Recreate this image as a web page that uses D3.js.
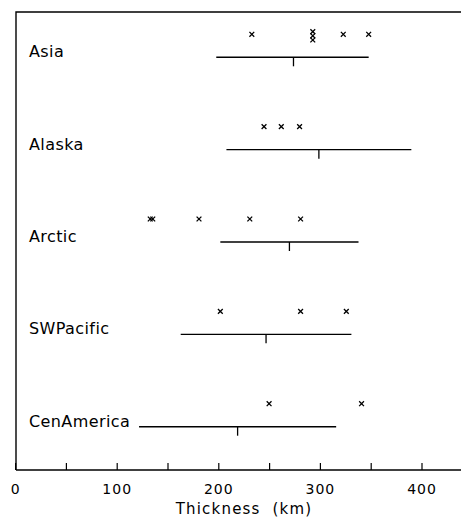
<!DOCTYPE html>
<html>
<head>
<meta charset="utf-8">
<script src="https://cdn.jsdelivr.net/npm/d3@7"></script>
<style>
  html, body { margin: 0; padding: 0; background: #fff; }
  svg { display: block; }
  text { font-family: "DejaVu Sans", sans-serif; fill: #000; }
</style>
</head>
<body>
<svg id="chart" width="461" height="519"></svg>
<script>
// Lithosphere thickness by region: individual estimates (x marks),
// overall range (horizontal bar) and median (short downward tick).
const regions = ["Asia", "Alaska", "Arctic", "SWPacific", "CenAmerica"];
const estimates = [
  [233, 293, 293, 293, 323, 348],
  [245, 262, 280],
  [133, 135.5, 181, 231, 281],
  [202, 281, 326],
  [250, 341]
];
const rangeLow  = [198, 208, 202, 163, 122];
const rangeHigh = [348, 390, 338, 331, 316];
const medians   = [274, 299, 270, 247, 219];
const tickValues = [0, 50, 100, 150, 200, 250, 300, 350, 400, 450];
const labelledTicks = [0, 100, 200, 300, 400];
const xTitle = "Thickness  (km)";

const svg = d3.select("#chart");
const W = 461;
const frameTop = 12, frameBottom = 470, frameLeft = 16;

const x = d3.scaleLinear().domain([0, 450]).range([15.1, 472.3]);
const y = d3.scalePoint().domain(regions).range([57.3, 426.7]);

// Frame: top and left edges
svg.append("path")
  .attr("d", `M${frameLeft},${frameBottom} L${frameLeft},${frameTop} L${W},${frameTop}`)
  .attr("fill", "none").attr("stroke", "#000").attr("stroke-width", 1.4);

// Bottom axis with inward ticks
const axis = d3.axisBottom(x)
  .tickValues(tickValues)
  .tickSizeInner(-7)
  .tickSizeOuter(0)
  .tickPadding(14)
  .tickFormat(d => labelledTicks.includes(d) ? d : "");

const gx = svg.append("g")
  .attr("transform", `translate(0,${frameBottom})`)
  .call(axis);
gx.select(".domain").attr("stroke", "#000").attr("stroke-width", 1.4)
  .attr("d", `M${frameLeft},0H${W}`);
gx.selectAll(".tick line").attr("stroke", "#000").attr("stroke-width", 1.2);
gx.selectAll(".tick text")
  .attr("font-size", 14)
  .attr("letter-spacing", 1)
  .attr("font-family", "DejaVu Sans, sans-serif")
  .attr("fill", "#000");

svg.append("text")
  .attr("x", 244).attr("y", 514)
  .attr("text-anchor", "middle")
  .attr("font-size", 15)
  .attr("letter-spacing", 1.2)
  .style("white-space", "pre")
  .text(xTitle);

// One row per region
const rows = svg.selectAll("g.row")
  .data(regions)
  .join("g")
  .attr("class", "row")
  .attr("transform", d => `translate(0,${y(d)})`);

rows.append("text")
  .attr("x", 29).attr("y", 0)
  .attr("font-size", 16)
  .attr("letter-spacing", 0.4)
  .text(d => d);

rows.append("line")
  .attr("x1", (d, i) => x(rangeLow[i]))
  .attr("x2", (d, i) => x(rangeHigh[i]))
  .attr("stroke", "#000").attr("stroke-width", 1.4);

rows.append("line")
  .attr("x1", (d, i) => x(medians[i]))
  .attr("x2", (d, i) => x(medians[i]))
  .attr("y1", 0).attr("y2", 9)
  .attr("stroke", "#000").attr("stroke-width", 1.3);

// Estimates: repeated values are stacked vertically
const s = 2.4;
rows.each(function (d, i) {
  const vals = estimates[i];
  const counts = d3.rollup(vals, v => v.length, v => v);
  const seen = new Map();
  const pts = vals.map(v => {
    const k = seen.get(v) || 0;
    seen.set(v, k + 1);
    const n = counts.get(v);
    const dy = n > 1 ? (k - (n - 1) / 2) * 4.2 + 1.5 : 0;
    return { v, dy };
  });
  d3.select(this).selectAll("path.mark")
    .data(pts)
    .join("path")
    .attr("class", "mark")
    .attr("transform", p => `translate(${x(p.v)},${-23 + p.dy})`)
    .attr("d", `M${-s},${-s}L${s},${s}M${-s},${s}L${s},${-s}`)
    .attr("stroke", "#000").attr("stroke-width", 1.3).attr("fill", "none");
});
</script>
</body>
</html>
